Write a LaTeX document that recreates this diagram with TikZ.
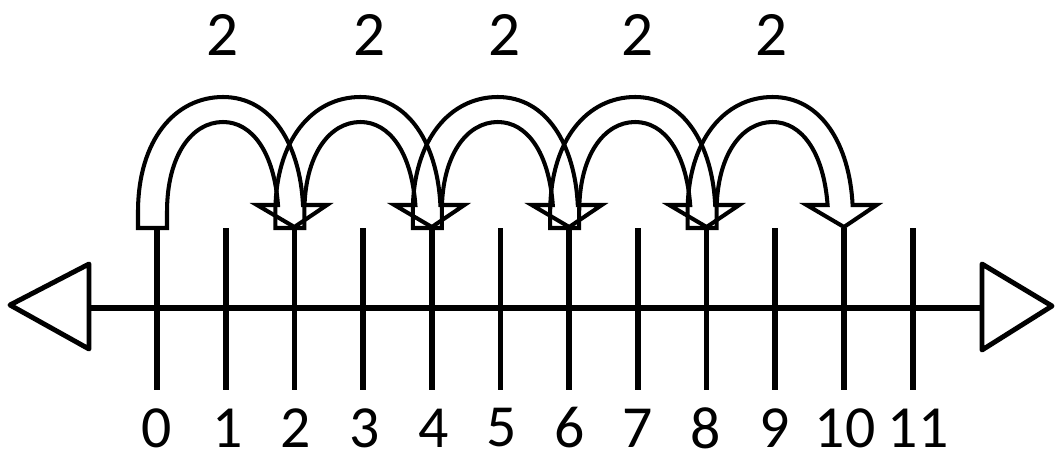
\documentclass[tikz,border=0pt]{standalone}
\usepackage{fontspec}
\setmainfont{Carlito}
\begin{document}
\begin{tikzpicture}[x=0.02cm,y=-0.02cm,
  axisline/.style={line width=3.4pt},
  tickline/.style={line width=3.2pt},
  endtri/.style={line width=2.8pt,line join=round,fill=white},
  jumparrow/.style={line width=2.3pt,line join=miter},
  toplabel/.style={inner sep=0pt,font=\fontsize{36}{40}\selectfont},
  numlabel/.style={inner sep=0pt,font=\fontsize{34}{38}\selectfont}]
\useasboundingbox (0,0) rectangle (1055,450);
% axis
\coordinate (L) at (89,308);
\coordinate (R) at (982,308);
\draw[axisline] (L) -- (R);
\draw[endtri] (L) ++(0,-44) -- (10,305) -- (89,349) -- cycle;
\draw[endtri] (R) ++(0,-44) -- (1052,306) -- (982,350) -- cycle;
% ticks
\foreach \i in {0,...,11}{
  \coordinate (t\i) at ({157+68.7*\i},228);
  \coordinate (b\i) at ({157+68.7*\i},390);
  \draw[tickline] (t\i) -- (b\i);
}
% numbers
\foreach \i/\x in {0/157,1/228,2/296,3/365,4/434,5/502,6/570,7/638,8/706,9/775,10/845,11/918}{
  \node[numlabel] (n\i) at (\x,428) {\i};
}
% jump arrows
\foreach \k/\lx in {0/223,1/370,2/505,3/638,4/772}{
  \begin{scope}[xshift={137.4*\k*0.02cm}]
    \draw[jumparrow] (138,228) -- (138,212)
      .. controls (138,140) and (175,97) .. (223,97)
      .. controls (272,97) and (300,145) .. (303,205)
      -- (327,205) -- (294.4,227) -- (257,205) -- (278,205)
      .. controls (274,152) and (252,122) .. (223,122)
      .. controls (192,122) and (167,155) .. (167,212)
      -- (167,228) -- cycle;
  \end{scope}
  \node[toplabel] (j\k) at (\lx,35) {2};
}
\end{tikzpicture}
\end{document}
